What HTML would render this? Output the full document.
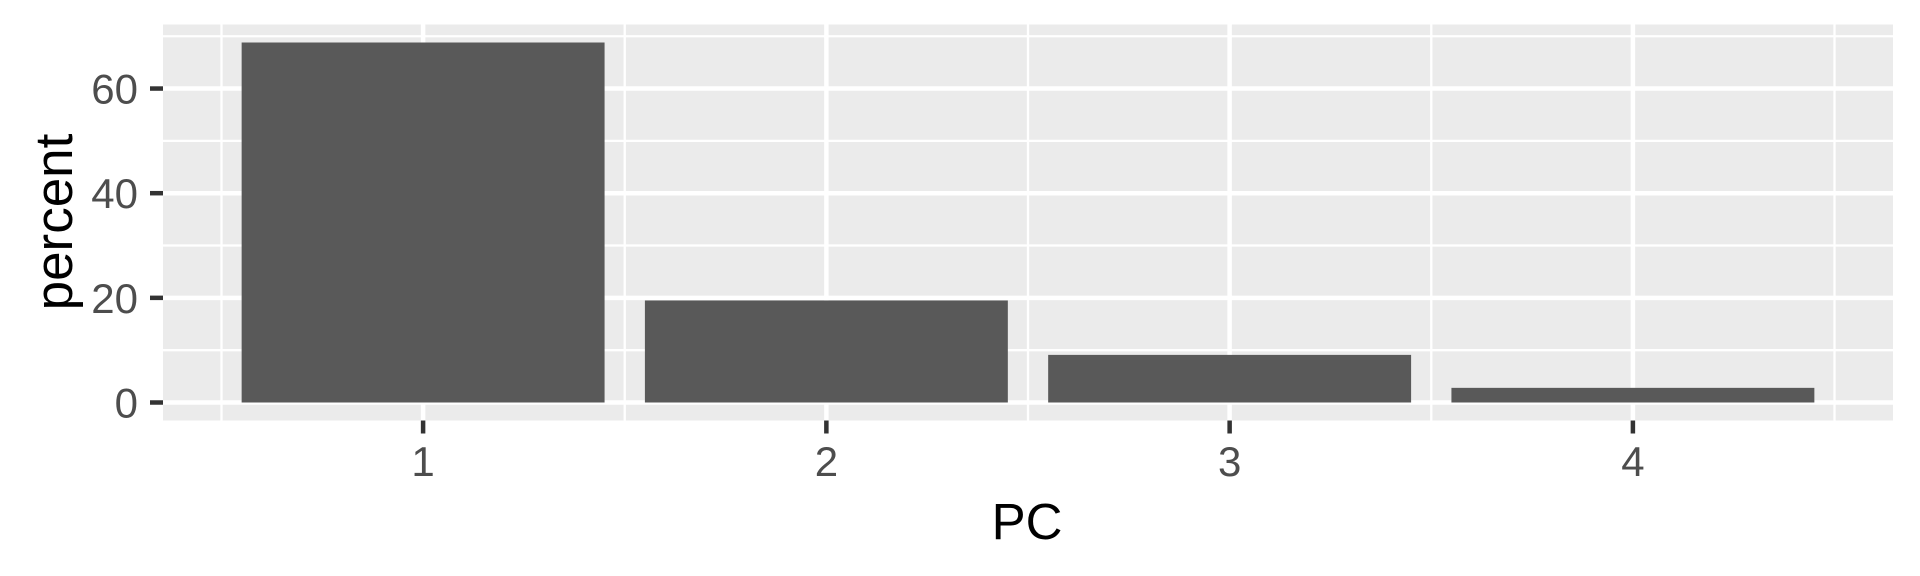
<!DOCTYPE html>
<html><head><meta charset="utf-8"><style>
html,body{margin:0;padding:0;background:#fff;}
svg{display:block;font-family:"Liberation Sans",sans-serif;}
</style></head><body>
<svg id="chart" width="1920" height="576" viewBox="0 0 1920 576">
<rect x="0" y="0" width="1920" height="576" fill="#fff"/>
<g id="panel"></g>
<text x="1027" y="539" text-anchor="middle" font-size="51" fill="#000">PC</text>
<text transform="translate(72,222) rotate(-90)" text-anchor="middle" font-size="53" fill="#000">percent</text>
</svg>
<script>
const categories = [1, 2, 3, 4];
const percentValues = [68.8, 19.5, 9.1, 2.8];
const yTicks = [0, 20, 40, 60];
const yMinor = [10, 30, 50, 70];
const xMinor = [0.5, 1.5, 2.5, 3.5, 4.5];

const PL = 163, PR = 1893, PT = 24.5, PB = 420.5;
const ns = "http://www.w3.org/2000/svg";
const maxV = Math.max(...percentValues);
const yLo = -0.05 * maxV, yHi = maxV * 1.05;
const xLo = 0.55 - 0.195, xHi = 4.45 + 0.195;
function xs(v){ return PL + (v - xLo) / (xHi - xLo) * (PR - PL); }
function ys(v){ return PB - (v - yLo) / (yHi - yLo) * (PB - PT); }
const g = document.getElementById('panel');
const svg = document.getElementById('chart');
function mk(tag, attrs, parent){
  const e = document.createElementNS(ns, tag);
  for (const k in attrs) e.setAttribute(k, attrs[k]);
  (parent || g).appendChild(e);
  return e;
}
let bg = mk('rect', {x:PL, y:PT, width:PR-PL, height:PB-PT, fill:'#ebebeb'});


yMinor.forEach(v => {
  const l = mk('line', {x1:PL, x2:PR, y1:ys(v), y2:ys(v), stroke:'#fff', 'stroke-width':2.3});
  
  
});
xMinor.forEach(v => {
  const l = mk('line', {x1:xs(v), x2:xs(v), y1:PT, y2:PB, stroke:'#fff', 'stroke-width':2.3});
  
  
});
yTicks.forEach(v => {
  const l = mk('line', {x1:PL, x2:PR, y1:ys(v), y2:ys(v), stroke:'#fff', 'stroke-width':4.5});
  
  
  const t = mk('line', {x1:PL-13, x2:PL, y1:ys(v), y2:ys(v), stroke:'#333', 'stroke-width':4.5}, svg);
  
  
  const tx = mk('text', {x:138, y:ys(v)+15, 'text-anchor':'end', 'font-size':42, fill:'#4d4d4d'}, svg);
  tx.textContent = v;
  
  
});
categories.forEach(c => {
  const l = mk('line', {x1:xs(c), x2:xs(c), y1:PT, y2:PB, stroke:'#fff', 'stroke-width':4.5});
  
  
  const t = mk('line', {x1:xs(c), x2:xs(c), y1:PB, y2:PB+13, stroke:'#333', 'stroke-width':4.5}, svg);
  
  
  const tx = mk('text', {x:xs(c), y:476, 'text-anchor':'middle', 'font-size':42, fill:'#4d4d4d'}, svg);
  tx.textContent = c;
  
  
});
categories.forEach((c, i) => {
  const v = percentValues[i];
  const b = mk('rect', {x:xs(c-0.45), y:ys(v), width:xs(c+0.45)-xs(c-0.45), height:ys(0)-ys(v), fill:'#595959'});
  
  
});
</script>
</body></html>
